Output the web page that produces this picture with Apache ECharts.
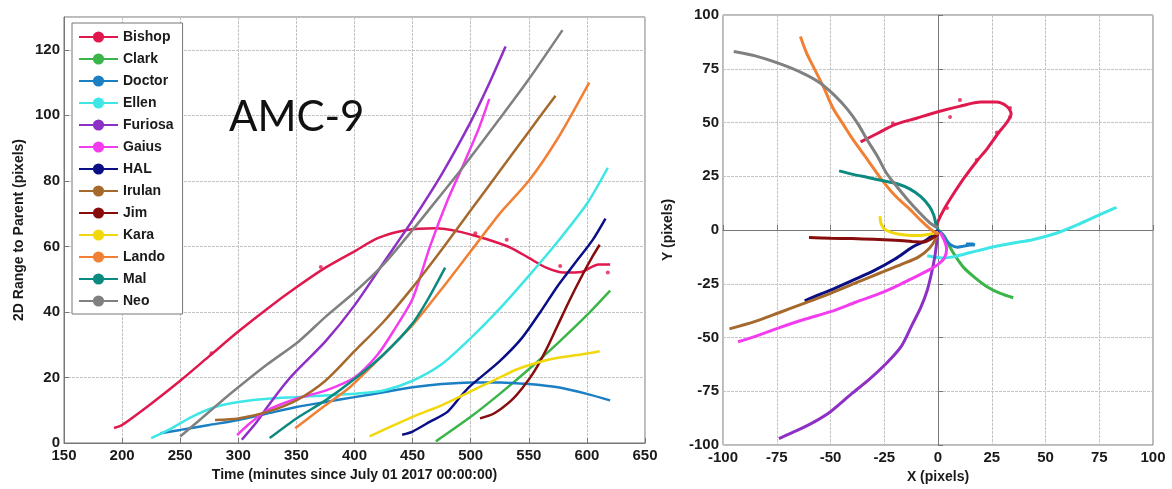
<!DOCTYPE html>
<html>
<head>
<meta charset="utf-8">
<title>AMC-9</title>
<script src="https://cdn.jsdelivr.net/npm/echarts@6/dist/echarts.min.js"></script>
<style>
  html, body { margin: 0; padding: 0; background: #fff; }
  #chart { width: 1172px; height: 489px; }
</style>
</head>
<body>
<div id="chart"></div>
<script>
// names + colours, in legend order
const names = ["Bishop", "Clark", "Doctor", "Ellen", "Furiosa", "Gaius", "HAL",
  "Irulan", "Jim", "Kara", "Lando", "Mal", "Neo"];
const colors = ["#e0184e", "#3bb54a", "#1b7fc4", "#3ee6e6", "#8e2fc6", "#f43cef",
  "#0b0f85", "#a5692d", "#870d0d", "#f2d80a", "#f28034", "#0b8a80", "#808080"];

// left panel: [time (min), 2D range to parent (px)]
const rangeBishop = [[193,4.6],[200,5.5],[225,12],[250,19],[275,26.5],[300,34],[325,41],[350,47.5],
  [375,53.5],[400,58.5],[420,62.5],[445,65],[470,65.5],[490,64.5],[506,63],[520,61.5],[535,59.5],
  [550,56.5],[565,53.5],[580,52],[595,52.2],[610,54.5],[620,54.5]];
const rangeClark = [[470,0.5],[500,8],[525,15],[550,22.5],[575,30.5],[600,39],[620,46.5]];
const rangeDoctor = [[233,3],[250,4],[275,5.5],[300,7],[325,9],[350,11],[375,12.5],[400,14],[425,15.5],
  [450,17],[475,18],[500,18.5],[525,18.5],[550,18],[575,17],[600,15],[620,13]];
const rangeEllen = [[225,1.5],[240,4],[260,8],[280,11],[300,12.5],[325,13.5],[350,14],[375,14.5],[400,15],
  [425,16],[450,19],[475,24],[500,32],[525,41],[550,51],[575,61.5],[600,73],[618,84]];
const rangeFuriosa = [[303,1],[315,6],[325,11],[340,18],[350,22],[375,31],[400,42],[425,55],[450,68],
  [475,82],[500,98],[515,109],[530,121]];
const rangeGaius = [[299,2.4],[310,6],[325,10],[350,13.5],[375,16],[400,20],[420,27],[435,35],[450,44],
  [465,60],[480,74],[495,86],[507,96],[516,105]];
const rangeHAL = [[441,2.5],[450,3.5],[465,6.5],[480,9.5],[492,14.5],[500,17.5],[525,25],[544,32],[560,40],
  [575,48],[590,55],[605,62],[616,68.5]];
const rangeIrulan = [[280,7],[300,7.5],[325,9.5],[350,13],[375,19],[400,28],[425,37],[450,47.5],[475,59],
  [500,71],[525,83],[550,95],[573,106]];
const rangeJim = [[508,7.5],[520,9],[535,13],[545,17],[555,22],[565,28.5],[575,36],[585,43.5],[595,50.5],
  [605,57],[611,60.5]];
const rangeKara = [[413,2],[425,4],[450,8],[475,11.5],[493,14.5],[510,17.5],[525,20],[540,22.5],[557,24.5],
  [575,26],[595,27],[611,28]];
const rangeLando = [[349,4.5],[360,7.5],[375,11.5],[396,17],[425,27],[450,36],[475,47],[500,58.5],[525,70],
  [550,80],[575,93],[602,110]];
const rangeMal = [[327,1.5],[350,7.5],[375,13],[400,19.5],[425,27],[450,36.5],[465,45],[478,53.5]];
const rangeNeo = [[250,2],[265,6.5],[283,12],[300,17],[325,24],[352,31],[375,38.5],[400,46],[425,54.5],
  [450,65],[475,76],[493,84],[525,99],[550,111],[579,126]];
// raw Bishop observations (dots off the fitted curve)
const bishopObs = [[277,27.4],[371,53.7],[504,64],[531,62],[577,54],[618,52]];

// right panel: [X (px), Y (px)] relative to parent
const xyBishop = [[-36,41],[-28,45],[-20,49],[-10,52],[0,55],[10,57.5],[20,59.5],[27,59.5],[32,57.5],
  [34,54],[32,50],[28,45],[23,38],[18,32],[12,24],[7,16.5],[3,10],[0,4],[-1,1]];
const xyClark = [[0,0],[3,-3],[5,-7],[8,-12],[12,-17.5],[17,-22],[23,-26.5],[29,-29.5],[35,-31.5]];
const xyDoctor = [[0,0],[2,-2],[4,-5],[6,-7],[9,-8],[12,-7.5],[15,-7],[17,-7],[16,-6.5],[13,-6.5]];
const xyEllen = [[-5,-12],[-2,-12.5],[2,-13],[7,-12.5],[15,-10.5],[25,-8],[35,-6],[44,-4.5],[55,-1.5],
  [65,2.5],[75,7],[83,10.5]];
const xyFuriosa = [[-74,-97],[-65,-93],[-58,-89.5],[-50,-84.5],[-40,-76],[-32,-69.5],[-24,-62],[-17,-54],
  [-12,-44],[-8,-36],[-5,-28],[-3,-20],[-1.5,-12.5],[-0.5,-5],[0,0]];
const xyGaius = [[-93,-52],[-85,-49.5],[-74,-45.5],[-62,-41.5],[-50,-38],[-38,-33.5],[-27,-29.5],[-18,-25.5],
  [-11,-22],[-5,-19],[0,-16],[3,-13],[4,-9],[3,-5],[1,-1]];
const xyHAL = [[-62,-33],[-55,-30],[-50,-28],[-40,-23.5],[-30,-19],[-20,-13.5],[-12,-8],[-6,-5],[-2,-2],[0,0]];
const xyIrulan = [[-97,-46],[-85,-42.5],[-74,-38.5],[-62,-34],[-50,-29.5],[-38,-24.5],[-27,-20],[-17,-16],
  [-9,-12.5],[-4,-8.5],[-1,-4],[0,-1]];
const xyJim = [[-60,-3.5],[-50,-3.8],[-40,-4],[-30,-4.3],[-20,-4.8],[-12,-5.3],[-7,-5.6],[-3,-4],[0,-2]];
const xyKara = [[-27,6.5],[-26.5,3],[-25,0.5],[-22,-1],[-18,-2],[-13,-2.5],[-8,-2.5],[-4,-2],[0,-1]];
const xyLando = [[-64,90],[-61,82],[-58,76],[-53,66],[-49,57],[-44,49],[-39.5,42],[-33,33],[-27,24.5],
  [-20,16],[-14,10.5],[-8,4.5],[-3,0],[0,-2]];
const xyMal = [[-46,27.5],[-40,26],[-33,24.5],[-26,23],[-19,21.5],[-13,19],[-8,15.5],[-4,11],[-2,7],[-1,3],[0,0]];
const xyNeo = [[-95,83],[-85,81],[-74,77.5],[-63,73],[-55,68.5],[-48,62.5],[-42,56],[-37,49],[-33,42],
  [-28,34],[-24,26.5],[-19,20],[-14,14],[-9,8.5],[-4,3.5],[0,1]];
const bishopXYObs = [[-21,49.7],[5.6,52.6],[10.2,60.5],[33.5,56.7],[33.5,52.6],[27.4,45.3],[18,32.6],[4.2,10.2]];

// axis ticks
const timeTicks = { min: 150, max: 650, step: 50 };
const rangeTicks = { min: 0, max: 130, step: 20 };
const xyTicks = { min: -100, max: 100, step: 25 };

const rangeSets = [rangeBishop, rangeClark, rangeDoctor, rangeEllen, rangeFuriosa, rangeGaius, rangeHAL,
  rangeIrulan, rangeJim, rangeKara, rangeLando, rangeMal, rangeNeo];
const xySets = [xyBishop, xyClark, xyDoctor, xyEllen, xyFuriosa, xyGaius, xyHAL,
  xyIrulan, xyJim, xyKara, xyLando, xyMal, xyNeo];

const font = "'Liberation Sans', Arial, sans-serif";
const gridLine = { show: true, lineStyle: { color: "#c4c4c4", type: [3, 1] } };
const axLine = { show: true, lineStyle: { color: "#777" } };
const tick = { show: true, inside: true, length: 5, lineStyle: { color: "#777" } };
const tickLbl = { color: "#1a1a1a", fontWeight: "bold", fontSize: 15, fontFamily: font };
const nameStyle = { color: "#1a1a1a", fontWeight: "bold", fontSize: 14, fontFamily: font };

let chart = echarts.init(document.getElementById("chart"), null, { renderer: "canvas" });

let series = [];
for (let i = 0; i < names.length; i++) {
  series.push({
    name: names[i], type: "line", xAxisIndex: 0, yAxisIndex: 0,
    data: rangeSets[i], smooth: 0.25, showSymbol: false, symbol: "circle", symbolSize: 9,
    lineStyle: { width: 2.5, color: colors[i] }, itemStyle: { color: colors[i] },
    animation: false
  });
}
for (let i = 0; i < names.length; i++) {
  series.push({
    name: names[i], type: "line", xAxisIndex: 1, yAxisIndex: 1,
    data: xySets[i], smooth: 0.3, showSymbol: false, symbol: "circle", symbolSize: 9,
    lineStyle: { width: 3, color: colors[i] }, itemStyle: { color: colors[i] },
    animation: false
  });
}
series.push({ name: "Bishop obs", type: "scatter", xAxisIndex: 0, yAxisIndex: 0, data: bishopObs,
  symbolSize: 4, itemStyle: { color: colors[0] }, animation: false });
series.push({ name: "Bishop obs xy", type: "scatter", xAxisIndex: 1, yAxisIndex: 1, data: bishopXYObs,
  symbolSize: 4, itemStyle: { color: colors[0] }, animation: false });

let option = {
  backgroundColor: "#fff",
  grid: [
    { left: 64, top: 17, width: 581, height: 426, show: true, borderColor: "#777", borderWidth: 1 },
    { left: 723, top: 15, width: 430, height: 430, show: true, borderColor: "#777", borderWidth: 1 }
  ],
  legend: {
    data: names, orient: "vertical", left: 72, top: 23,
    padding: [7, 9, 6, 6], itemGap: 8, itemWidth: 39, itemHeight: 14,
    backgroundColor: "#fff", borderColor: "#777", borderWidth: 1,
    textStyle: { color: "#1a1a1a", fontWeight: "bold", fontSize: 14, fontFamily: font }
  },
  xAxis: [
    { type: "value", gridIndex: 0, min: timeTicks.min, max: timeTicks.max, interval: timeTicks.step,
      name: "Time (minutes since July 01 2017 00:00:00)", nameLocation: "middle", nameGap: 24,
      nameTextStyle: nameStyle, axisLine: axLine, axisTick: tick, splitLine: gridLine,
      axisLabel: Object.assign({ margin: 5 }, tickLbl) },
    { type: "value", gridIndex: 1, min: xyTicks.min, max: xyTicks.max, interval: xyTicks.step,
      name: "X (pixels)", nameLocation: "middle", nameGap: 25,
      nameTextStyle: nameStyle, axisLine: axLine, axisTick: tick, splitLine: gridLine,
      axisLabel: Object.assign({ margin: 5 }, tickLbl) }
  ],
  yAxis: [
    { type: "value", gridIndex: 0, min: rangeTicks.min, max: rangeTicks.max, interval: rangeTicks.step,
      name: "2D Range to Parent (pixels)", nameLocation: "middle", nameGap: 38, nameRotate: 90,
      nameTextStyle: nameStyle, axisLine: axLine, axisTick: tick, splitLine: gridLine,
      axisLabel: Object.assign({ margin: 4, showMaxLabel: false }, tickLbl) },
    { type: "value", gridIndex: 1, min: xyTicks.min, max: xyTicks.max, interval: xyTicks.step,
      name: "Y (pixels)", nameLocation: "middle", nameGap: 48, nameRotate: 90,
      nameTextStyle: nameStyle, axisLine: axLine, axisTick: tick, splitLine: gridLine,
      axisLabel: Object.assign({ margin: 4 }, tickLbl) }
  ],
  graphic: [
    { type: "text", left: 229, top: 96, z: 10,
      style: { text: "AMC-9", fill: "#111", font: "42px Lato, 'Open Sans', sans-serif" } }
  ],
  series: series
};
option && chart.setOption(option);
</script>
</body>
</html>
